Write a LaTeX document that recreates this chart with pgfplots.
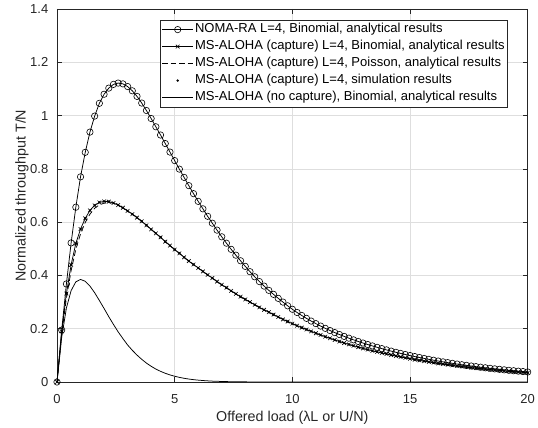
\documentclass[border=0pt]{standalone}
\usepackage{pgfplots}
\pgfplotsset{compat=1.18}
\usepackage{pgfplotstable}
\usepackage{fontspec}
\setmainfont{Liberation Sans}
\definecolor{axgray}{rgb}{0.15,0.15,0.15}
\definecolor{gridgray}{rgb}{0.87,0.87,0.87}

\pgfplotstableread{
x noma msb msp nocap
0.0 0 0 0 0
0.2 0.195 0.190 0.180 0.168
0.4 0.368 0.332 0.315 0.278
0.6 0.522 0.440 0.418 0.343
0.8 0.656 0.520 0.498 0.376
1.0 0.770 0.574 0.556 0.385
1.2 0.862 0.614 0.599 0.378
1.4 0.938 0.644 0.630 0.360
1.6 0.998 0.663 0.652 0.335
1.8 1.046 0.674 0.665 0.306
2.0 1.080 0.678 0.671 0.276
2.2 1.103 0.677 0.673 0.245
2.4 1.117 0.672 0.671 0.216
2.6 1.122 0.664 0.664 0.188
2.8 1.119 0.654 0.654 0.163
3.0 1.109 0.642 0.642 0.139
3.2 1.093 0.630 0.630 0.119
3.4 1.072 0.617 0.617 0.101
3.6 1.047 0.603 0.603 0.085
3.8 1.019 0.588 0.588 0.071
4.0 0.989 0.573 0.573 0.059
4.2 0.958 0.558 0.558 0.0486
4.4 0.927 0.543 0.543 0.040
4.6 0.895 0.527 0.527 0.0327
4.8 0.863 0.512 0.512 0.0266
5.0 0.831 0.497 0.497 0.0216
5.2 0.799 0.483 0.483 0.0174
5.4 0.768 0.468 0.468 0.0139
5.6 0.737 0.454 0.454 0.0111
5.8 0.707 0.441 0.441 0.0088
6.0 0.678 0.428 0.428 0.0070
6.2 0.650 0.415 0.415 0.0055
6.4 0.622 0.402 0.402 0.0043
6.6 0.596 0.390 0.390 0.0033
6.8 0.570 0.377 0.377 0.0026
7.0 0.545 0.365 0.365 0.0020
7.2 0.521 0.354 0.354 0.0015
7.4 0.498 0.342 0.342 0.0012
7.6 0.476 0.331 0.331 0.0009
7.8 0.455 0.320 0.320 0.0007
8.0 0.434 0.310 0.310 0.0005
8.2 0.414 0.300 0.300 0.0004
8.4 0.395 0.290 0.290 0.0003
8.6 0.377 0.280 0.280 0.0002
8.8 0.360 0.271 0.271 0.0002
9.0 0.344 0.262 0.262 0.0001
9.2 0.329 0.253 0.253 0.0001
9.4 0.314 0.244 0.244 0.0001
9.6 0.300 0.235 0.235 0.0001
9.8 0.286 0.227 0.227 0
10.0 0.273 0.219 0.219 0
10.2 0.261 0.2115 0.2115 0
10.4 0.2496 0.204 0.204 0
10.6 0.2389 0.197 0.197 0
10.8 0.2287 0.190 0.190 0
11.0 0.2191 0.183 0.183 0
11.2 0.2100 0.1765 0.1765 0
11.4 0.2014 0.170 0.170 0
11.6 0.1932 0.164 0.164 0
11.8 0.1855 0.158 0.158 0
12.0 0.1782 0.152 0.152 0
12.2 0.1712 0.1465 0.1465 0
12.4 0.1646 0.141 0.141 0
12.6 0.1582 0.136 0.136 0
12.8 0.1521 0.131 0.131 0
13.0 0.1463 0.126 0.126 0
13.2 0.1407 0.1215 0.1215 0
13.4 0.1354 0.117 0.117 0
13.6 0.1302 0.113 0.113 0
13.8 0.1253 0.109 0.109 0
14.0 0.1205 0.105 0.105 0
14.2 0.1159 0.101 0.101 0
14.4 0.1115 0.0975 0.0975 0
14.6 0.1073 0.094 0.094 0
14.8 0.1032 0.0905 0.0905 0
15.0 0.0993 0.0872 0.0872 0
15.2 0.0955 0.0840 0.0840 0
15.4 0.0919 0.0810 0.0810 0
15.6 0.0884 0.0781 0.0781 0
15.8 0.0850 0.0753 0.0753 0
16.0 0.0818 0.0725 0.0725 0
16.2 0.0787 0.0699 0.0699 0
16.4 0.0757 0.0674 0.0674 0
16.6 0.0728 0.0650 0.0650 0
16.8 0.0700 0.0626 0.0626 0
17.0 0.0674 0.0604 0.0604 0
17.2 0.0648 0.0582 0.0582 0
17.4 0.0624 0.0561 0.0561 0
17.6 0.0600 0.0541 0.0541 0
17.8 0.0577 0.0521 0.0521 0
18.0 0.0555 0.0502 0.0502 0
18.2 0.0534 0.0484 0.0484 0
18.4 0.0514 0.0467 0.0467 0
18.6 0.0494 0.0450 0.0450 0
18.8 0.0475 0.0434 0.0434 0
19.0 0.0457 0.0418 0.0418 0
19.2 0.0440 0.0403 0.0403 0
19.4 0.0423 0.0388 0.0388 0
19.6 0.0407 0.0374 0.0374 0
19.8 0.0392 0.0361 0.0361 0
20.0 0.0377 0.0348 0.0348 0
}\data

\begin{document}
\begin{tikzpicture}
\begin{axis}[
  at={(57pt,46pt)}, anchor=south west,
  scale only axis, width=470.7pt, height=373pt,
  xmin=0, xmax=20, ymin=0, ymax=1.4,
  xtick={0,5,10,15,20},
  ytick={0,0.2,0.4,0.6,0.8,1,1.2,1.4},
  tick pos=both, tick align=inside, major tick length=4.7pt,
  grid=major, major grid style={gridgray, line width=0.5pt},
  axis line style={axgray, line width=0.6pt},
  tick style={axgray, line width=0.5pt},
  /pgf/number format/assume math mode=true,
  ticklabel style={font=\fontsize{13}{15}\selectfont, text=axgray},
  xticklabel style={anchor=base, yshift=-21.3pt},
  yticklabel style={anchor=east, inner xsep=0pt, xshift=-8.5pt},
  xlabel={Offered load (λL or U/N)},
  ylabel={Normalized throughput T/N},
  label style={font=\fontsize{14.3}{16}\selectfont, text=axgray},
  xlabel style={at={(axis description cs:0.5,-0.1072)}, anchor=base},
  ylabel style={at={(axis description cs:-0.0745,0.5)}, anchor=center},
  legend cell align=left,
  legend style={at={(0.9581,0.9705)}, anchor=north east,
    font=\fontsize{13}{15}\selectfont, draw=axgray, line width=0.6pt, fill=white,
    inner xsep=1.5pt, inner ysep=0.8pt,
    nodes={inner xsep=1.5pt, inner ysep=2.25pt, text height=9.5pt, text depth=3pt, text=black},
    row sep=0pt},
  legend image code/.code={\draw[mark repeat=2, mark phase=2, #1] plot coordinates {(0pt,0pt) (15.5pt,0pt) (31pt,0pt)};},
]
\addplot[black, line width=0.75pt, mark=o, mark size=3.2pt, mark options={solid, line width=0.6pt}] table[x=x, y=noma]{\data};
\addlegendentry{NOMA-RA L=4, Binomial, analytical results}
\addplot[black, line width=0.75pt, mark=x, mark size=2.6pt, mark options={solid, line width=0.6pt}] table[x=x, y=msb]{\data};
\addlegendentry{MS-ALOHA (capture) L=4, Binomial, analytical results}
\addplot[black, line width=0.75pt, dash pattern=on 5.5pt off 3pt] table[x=x, y=msp]{\data};
\addlegendentry{MS-ALOHA (capture) L=4, Poisson, analytical results}
\addplot[black, only marks, mark=*, mark size=0.9pt] table[x=x, y=msb]{\data};
\addlegendentry{MS-ALOHA (capture) L=4, simulation results}
\addplot[black, line width=0.75pt] table[x=x, y=nocap]{\data};
\addlegendentry{MS-ALOHA (no capture), Binomial, analytical results}
\end{axis}
\pgfresetboundingbox
\path[use as bounding box] (0,0) rectangle (538pt,428pt);
\end{tikzpicture}
\end{document}
